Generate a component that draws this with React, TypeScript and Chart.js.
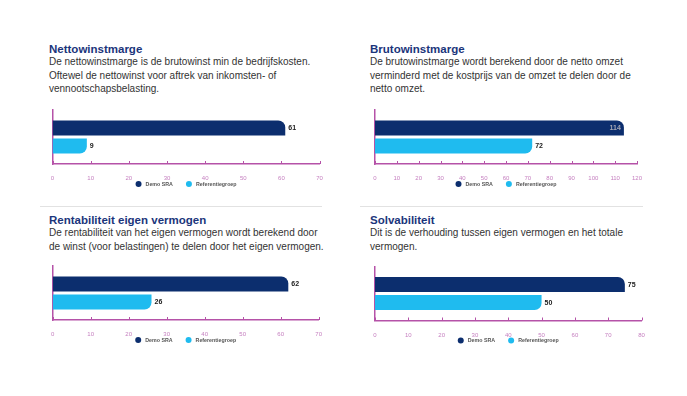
import React, { useEffect, useRef } from 'react';
import { Chart, registerables } from 'chart.js';

Chart.register(...registerables);

// ---------- data ----------
const seriesNames = ['Demo SRA', 'Referentiegroep'];
const panelTitles = ['Nettowinstmarge', 'Brutowinstmarge', 'Rentabiliteit eigen vermogen', 'Solvabiliteit'];
const panelDescriptions = [
  ['De nettowinstmarge is de brutowinst min de bedrijfskosten.', 'Oftewel de nettowinst voor aftrek van inkomsten- of', 'vennootschapsbelasting.'],
  ['De brutowinstmarge wordt berekend door de netto omzet', 'verminderd met de kostprijs van de omzet te delen door de', 'netto omzet.'],
  ['De rentabiliteit van het eigen vermogen wordt berekend door', 'de winst (voor belastingen) te delen door het eigen vermogen.'],
  ['Dit is de verhouding tussen eigen vermogen en het totale', 'vermogen.'],
];
const demoValues = [61, 114, 62, 75];
const referenceValues = [9, 72, 26, 50];
const axisMaxima = [70, 120, 70, 80];
const tickSteps = [10, 10, 10, 10];

// ---------- styles ----------
const NAVY = '#0c2e6e';
const LIGHT = '#1fbbef';
const AXIS = '#b552a8';
const TICK_TEXT = '#c680c0';
const FONT = "'Liberation Sans', Arial, Helvetica, sans-serif";

type Layout = {
  textLeft: number; titleTop: number; descTop: number;
  canvasLeft: number; canvasTop: number; width: number; height: number;
  padLeft: number; padRight: number; padTop: number;
};

const layouts: Layout[] = [
  { textLeft: 49, titleTop: 41.7, descTop: 55.4, canvasLeft: 40, canvasTop: 100, width: 300, height: 100, padLeft: 12.5, padRight: 20.4, padTop: 10 },
  { textLeft: 370, titleTop: 41.7, descTop: 55.4, canvasLeft: 360, canvasTop: 100, width: 300, height: 100, padLeft: 15, padRight: 23, padTop: 10 },
  { textLeft: 49, titleTop: 212.6, descTop: 226.4, canvasLeft: 40, canvasTop: 256, width: 300, height: 100, padLeft: 12.7, padRight: 21.3, padTop: 10 },
  { textLeft: 370, titleTop: 212.6, descTop: 226.4, canvasLeft: 360, canvasTop: 256, width: 300, height: 100, padLeft: 15, padRight: 18.5, padTop: 10.5 },
];

const decorPlugin = {
  id: 'decor',
  afterDatasetsDraw(chart: any) {
    const { ctx, chartArea } = chart;
    ctx.save();
    ctx.font = `bold 7px ${FONT}`;
    ctx.textBaseline = 'middle';
    chart.data.datasets.forEach((ds: any, i: number) => {
      const meta = chart.getDatasetMeta(i);
      meta.data.forEach((bar: any, j: number) => {
        const txt = String(ds.data[j]);
        const w = ctx.measureText(txt).width;
        if (bar.x + 3 + w > chartArea.right) {
          ctx.fillStyle = '#a4a6b4';
          ctx.textAlign = 'right';
          ctx.fillText(txt, bar.x - 3, bar.y + 0.5);
        } else {
          ctx.fillStyle = '#1a1a1a';
          ctx.textAlign = 'left';
          ctx.fillText(txt, bar.x + 3, bar.y + 0.5);
        }
      });
    });
    ctx.restore();
  },
  afterDraw(chart: any) {
    const { ctx, chartArea } = chart;
    const xs = chart.scales.x;
    ctx.save();
    // upward tick marks on the x axis
    ctx.strokeStyle = AXIS;
    ctx.lineWidth = 1;
    xs.ticks.forEach((t: any) => {
      const px = Math.round(xs.getPixelForValue(t.value)) + 0.5;
      ctx.beginPath();
      ctx.moveTo(px, chartArea.bottom - 3);
      ctx.lineTo(px, chartArea.bottom);
      ctx.stroke();
    });
    // legend
    ctx.font = `bold 5.3px ${FONT}`;
    ctx.textBaseline = 'middle';
    ctx.textAlign = 'left';
    const r = 3;
    const gapText = 4;
    const gapItem = 13;
    const items = chart.data.datasets.map((ds: any) => ({ label: ds.label, color: ds.backgroundColor, w: ctx.measureText(ds.label).width }));
    let total = 0;
    items.forEach((it: any, i: number) => { total += 2 * r + gapText + it.w + (i < items.length - 1 ? gapItem : 0); });
    let x = (chartArea.left + chartArea.right) / 2 - total / 2;
    const y = chartArea.bottom + 20;
    items.forEach((it: any) => {
      ctx.fillStyle = it.color;
      ctx.beginPath();
      ctx.arc(x + r, y, r, 0, Math.PI * 2);
      ctx.fill();
      ctx.fillStyle = '#555';
      ctx.fillText(it.label, x + 2 * r + gapText, y + 0.3);
      x += 2 * r + gapText + it.w + gapItem;
    });
    ctx.restore();
  },
};

function Panel({ index }: { index: number }) {
  const ref = useRef<HTMLCanvasElement | null>(null);
  const L = layouts[index];
  useEffect(() => {
    if (!ref.current) return;
    const chart = new Chart(ref.current, {
      type: 'bar',
      data: {
        labels: [''],
        datasets: [
          {
            label: seriesNames[0],
            data: [demoValues[index]],
            backgroundColor: NAVY,
            borderWidth: 0,
            borderRadius: { topRight: 7, bottomRight: 0, topLeft: 0, bottomLeft: 0 },
            borderSkipped: 'start',
            categoryPercentage: 0.667,
            barPercentage: 0.833,
          },
          {
            label: seriesNames[1],
            data: [referenceValues[index]],
            backgroundColor: LIGHT,
            borderWidth: 0,
            borderRadius: { topRight: 0, bottomRight: 7, topLeft: 0, bottomLeft: 0 },
            borderSkipped: 'start',
            categoryPercentage: 0.667,
            barPercentage: 0.833,
          },
        ],
      },
      options: {
        indexAxis: 'y',
        responsive: false,
        animation: false,
        events: [],
        layout: { padding: { left: L.padLeft, right: L.padRight, top: L.padTop, bottom: 0 } },
        plugins: { legend: { display: false }, tooltip: { enabled: false } },
        scales: {
          x: {
            type: 'linear',
            min: 0,
            max: axisMaxima[index],
            ticks: { stepSize: tickSteps[index], color: TICK_TEXT, font: { size: 6, family: FONT }, padding: 3, maxRotation: 0, autoSkip: false },
            grid: { display: false },
            border: { display: true, color: AXIS, width: 1.5 },
            afterFit: (s: any) => { s.height = L.height - 64 - (L.padTop - 10); },
          },
          y: {
            type: 'category',
            ticks: { display: false },
            grid: { display: false },
            border: { display: true, color: AXIS, width: 1.5 },
            afterFit: (s: any) => { s.width = 0; },
          },
        },
      } as any,
      plugins: [decorPlugin],
    });
    return () => chart.destroy();
  }, [index]);

  return (
    <>
      <div style={{ position: 'absolute', left: L.textLeft, top: L.titleTop, fontFamily: FONT, fontWeight: 'bold', fontSize: 11.5, lineHeight: '14px', color: '#1b357b', whiteSpace: 'nowrap' }}>
        {panelTitles[index]}
      </div>
      <div style={{ position: 'absolute', left: L.textLeft, top: L.descTop, fontFamily: FONT, fontSize: 10, lineHeight: '13.5px', color: '#333', whiteSpace: 'nowrap' }}>
        {panelDescriptions[index].map((line, i) => (
          <div key={i}>{line}</div>
        ))}
      </div>
      <canvas
        ref={ref}
        width={L.width}
        height={L.height}
        style={{ position: 'absolute', left: L.canvasLeft, top: L.canvasTop, width: L.width, height: L.height, display: 'block' }}
      />
    </>
  );
}

export default function App() {
  return (
    <div style={{ position: 'absolute', left: 0, top: 0, width: 687, height: 396, background: '#fff', overflow: 'hidden' }}>
      <div style={{ position: 'absolute', left: 40, top: 206, width: 282, height: 1, background: '#e2e2e2' }} />
      <div style={{ position: 'absolute', left: 360, top: 206, width: 283, height: 1, background: '#e2e2e2' }} />
      {[0, 1, 2, 3].map((i) => (
        <Panel key={i} index={i} />
      ))}
    </div>
  );
}
